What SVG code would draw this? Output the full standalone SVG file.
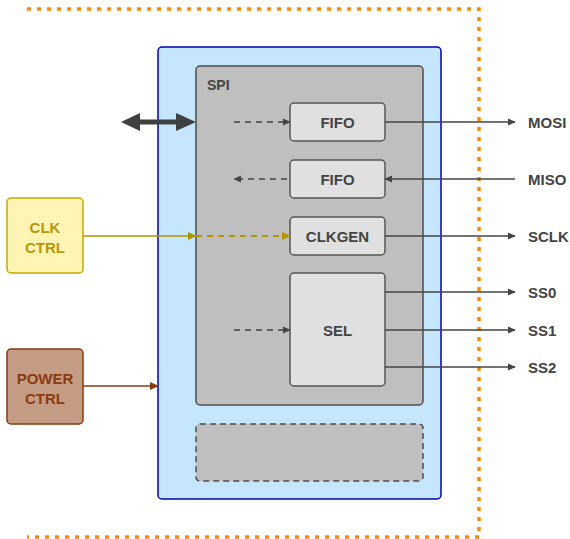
<svg xmlns="http://www.w3.org/2000/svg" width="570" height="539" viewBox="0 0 570 539">
<defs>
<marker id="ah" viewBox="0 0 10 10" refX="9" refY="5" markerWidth="8" markerHeight="8" markerUnits="userSpaceOnUse" orient="auto"><path d="M0,0.5 L10,5 L0,9.5 z" fill="#444"/></marker>
<marker id="ahg" viewBox="0 0 10 10" refX="9" refY="5" markerWidth="9" markerHeight="9" markerUnits="userSpaceOnUse" orient="auto"><path d="M0,0.5 L10,5 L0,9.5 z" fill="#b09500"/></marker>
<marker id="ahb" viewBox="0 0 10 10" refX="9" refY="5" markerWidth="9" markerHeight="9" markerUnits="userSpaceOnUse" orient="auto"><path d="M0,0.5 L10,5 L0,9.5 z" fill="#8b3a0f"/></marker>
</defs>
<style>
text{font-family:"Liberation Sans",Arial,sans-serif;font-weight:bold;font-size:15px}
.blk{fill:#e0e0e0;stroke:#555;stroke-width:1.5}
.t{fill:#444;text-anchor:middle}
.lbl{fill:#444}
.ln{stroke:#444;stroke-width:1.5;fill:none;marker-end:url(#ah)}
.dl{stroke:#444;stroke-width:1.5;fill:none;stroke-dasharray:6 5;marker-end:url(#ah)}
</style>
<rect width="570" height="539" fill="#fff"/>
<g id="frame"><path d="M27,9 H479 V537 H27" fill="none" stroke="#ff8800" stroke-width="3.5" stroke-dasharray="4 6"/></g>
<g id="soc"><rect x="158" y="47" width="283" height="452" rx="4" fill="#c5e6fc" stroke="#0000b4" stroke-width="1.5"/></g>
<g id="spi"><rect x="196" y="66" width="227" height="339" rx="4" fill="#bfbfbf" stroke="#4d4d4d" stroke-width="1.5"/><text x="207" y="90" class="lbl" style="font-size:14px">SPI</text></g>
<g id="empty"><rect x="196" y="424" width="227" height="57" rx="4" fill="#bfbfbf" stroke="#4d4d4d" stroke-width="1.5" stroke-dasharray="6 4"/></g>
<g id="fifo1"><rect class="blk" x="290" y="103" width="95" height="38" rx="4"/><text class="t" x="337.5" y="128">FIFO</text></g>
<g id="fifo2"><rect class="blk" x="290" y="160" width="95" height="38" rx="4"/><text class="t" x="337.5" y="185">FIFO</text></g>
<g id="clkgen"><rect class="blk" x="290" y="217" width="95" height="38" rx="4"/><text class="t" x="337.5" y="242">CLKGEN</text></g>
<g id="sel"><rect class="blk" x="290" y="273" width="95" height="113" rx="4"/><text class="t" x="337.5" y="336">SEL</text></g>
<g id="clkctrl"><rect x="7" y="198" width="76" height="75" rx="4" fill="#fff4b3" stroke="#c8a800" stroke-width="1.5"/><text x="45" y="233" text-anchor="middle" fill="#b8960b">CLK</text><text x="45" y="253" text-anchor="middle" fill="#b8960b">CTRL</text></g>
<g id="powerctrl"><rect x="7" y="349" width="76" height="75" rx="4" fill="#c49c84" stroke="#8b3a0f" stroke-width="1.5"/><text x="45" y="384" text-anchor="middle" fill="#8b3a0f">POWER</text><text x="45" y="404" text-anchor="middle" fill="#8b3a0f">CTRL</text></g>
<g id="signals">
<text class="lbl" x="528" y="128">MOSI</text>
<text class="lbl" x="528" y="185">MISO</text>
<text class="lbl" x="528" y="242">SCLK</text>
<text class="lbl" x="528" y="298">SS0</text>
<text class="lbl" x="528" y="336">SS1</text>
<text class="lbl" x="528" y="373">SS2</text>
</g>
<g id="connectors">
<path d="M121,122 L140,113 V119.5 H176 V113 L196,122 L176,131 V124.5 H140 V131 z" fill="#404040"/>
<path class="dl" d="M234,122 H290"/>
<path class="dl" d="M287,179 H234"/>
<path class="dl" d="M234,330 H290"/>
<path class="ln" d="M385,122 H515"/>
<path class="ln" d="M515,179 H385"/>
<path class="ln" d="M385,236 H515"/>
<path class="ln" d="M385,292 H515"/>
<path class="ln" d="M385,330 H515"/>
<path class="ln" d="M385,367 H515"/>
<path d="M83,236 H196" stroke="#b09500" stroke-width="1.5" fill="none" marker-end="url(#ahg)"/>
<path d="M196,236 H290" stroke="#b09500" stroke-width="2" fill="none" stroke-dasharray="6 5" marker-end="url(#ahg)"/>
<path d="M83,386 H158" stroke="#8b3a0f" stroke-width="1.5" fill="none" marker-end="url(#ahb)"/>
</g>
</svg>
